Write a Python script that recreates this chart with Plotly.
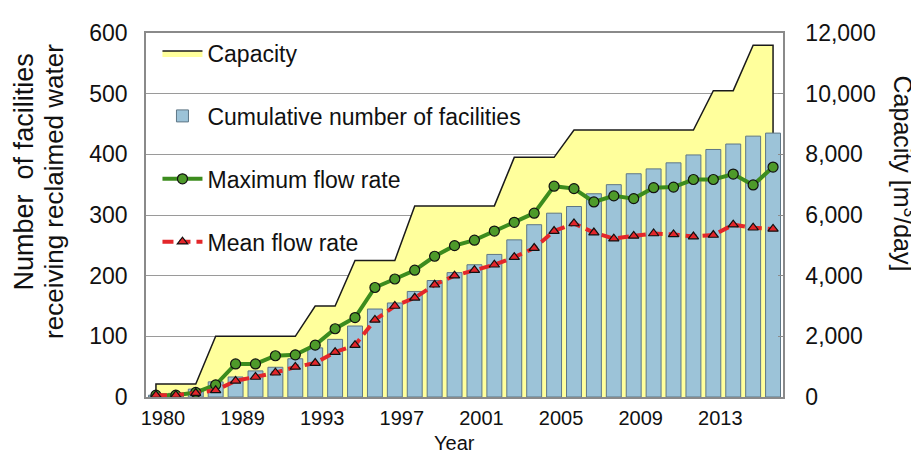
import plotly.graph_objects as go

years = ["1980", "1986", "1987", "1988", "1989", "1990", "1991", "1992",
         "1993", "1994", "1995", "1996", "1997", "1998", "1999", "2000",
         "2001", "2002", "2003", "2004", "2005", "2006", "2007", "2008",
         "2009", "2010", "2011", "2012", "2013", "2014", "2015", "2016"]

cumulative = [3, 6, 13, 25, 33, 43, 49, 63, 81, 95, 117, 145, 155, 174, 192, 205,
              218, 235, 259, 284, 303, 314, 335, 350, 368, 376, 386, 399, 408, 417, 430, 435]

capacity = [430, 430, 430, 2000, 2000, 2000, 2000, 2000, 3000, 3000, 4500, 4500, 4500,
            6300, 6300, 6300, 6300, 6300, 7900, 7900, 7900, 8800, 8800, 8800, 8800, 8800,
            8800, 8800, 10100, 10100, 11600, 11600]

max_flow = [60, 60, 150, 400, 1090, 1090, 1360, 1390, 1710, 2250, 2620, 3610, 3890, 4180,
            4640, 4990, 5170, 5470, 5760, 6060, 6950, 6870, 6430, 6630, 6540, 6900, 6920,
            7170, 7170, 7350, 6990, 7580]

mean_flow = [60, 60, 130, 220, 530, 660, 800, 990, 1120, 1480, 1710, 2540, 3000, 3270,
             3700, 4000, 4180, 4360, 4610, 4910, 5470, 5720, 5420, 5220, 5310, 5390, 5360,
             5290, 5340, 5680, 5580, 5540]

tick_years = ["1980", "1989", "1993", "1997", "2001", "2005", "2009", "2013"]

FONT = "Liberation Sans, Arial, sans-serif"
AXIS_GRAY = "#8a8a8a"

fig = go.Figure()

# Capacity area (closed at both ends so the outline has vertical sides)
fig.add_trace(go.Scatter(
    x=[years[0]] + years + [years[-1]],
    y=[0] + capacity + [0],
    mode="lines", fill="toself", fillcolor="#FFFF9C",
    line=dict(color="#1a1a1a", width=1.5),
    name="Capacity", yaxis="y", legendgroup="g1", hoverinfo="skip",
))

fig.add_trace(go.Bar(
    x=years, y=cumulative, name="Cumulative number of facilities",
    marker=dict(color="#9CC3D8", line=dict(color="#5E7786", width=1)),
    yaxis="y2", legendgroup="g2",
))

fig.add_trace(go.Scatter(
    x=years, y=max_flow, name="Maximum flow rate", mode="lines+markers",
    line=dict(color="#3C8C1E", width=4),
    marker=dict(symbol="circle", size=10, color="#4E9A2A", line=dict(color="#111", width=1.2)),
    yaxis="y3", legendgroup="g3",
))

fig.add_trace(go.Scatter(
    x=years, y=mean_flow, name="Mean flow rate", mode="lines+markers",
    line=dict(color="#E3262A", width=4, dash="11px,6px"),
    marker=dict(symbol="triangle-up", size=9, color="#E3262A", line=dict(color="#111", width=1.2)),
    yaxis="y3", legendgroup="g4",
))

fig.update_layout(
    width=911, height=445,
    margin=dict(l=138, r=136, t=16, b=56),
    paper_bgcolor="white", plot_bgcolor="white",
    font=dict(family=FONT, size=20, color="#111"),
    bargap=0.25,
    hovermode=False,
    showlegend=True,
    legend=dict(
        x=0.018, y=1.004, xanchor="left", yanchor="top",
        bgcolor="rgba(0,0,0,0)", font=dict(size=23, family=FONT, color="#111"),
        tracegroupgap=30, itemwidth=40, traceorder="grouped", maxheight=440,
    ),
    xaxis=dict(
        type="category", categoryorder="array", categoryarray=years,
        range=[-0.5, len(years) - 0.5],
        tickmode="array", tickvals=tick_years, ticktext=tick_years,
        ticks="", showgrid=False, showline=True, linecolor=AXIS_GRAY, linewidth=1.5,
        mirror=True, tickfont=dict(size=20), ticklabelstandoff=2, ticklabelshift=7,
    ),
    yaxis=dict(
        side="right", range=[0, 12000], tickmode="linear", tick0=0, dtick=2000,
        tickformat=",", showgrid=True, gridcolor="#9a9a9a", gridwidth=1,
        zeroline=False, showline=True, linecolor=AXIS_GRAY, linewidth=1.5,
        ticks="inside", ticklen=5, tickcolor=AXIS_GRAY,
        tickfont=dict(size=23), ticklabelstandoff=16,
    ),
    yaxis2=dict(
        overlaying="y", side="left", range=[0, 600], tickmode="linear", tick0=0, dtick=100,
        showgrid=False, zeroline=False, showline=True, linecolor=AXIS_GRAY, linewidth=1.5,
        ticks="", tickfont=dict(size=23), ticklabelstandoff=12,
    ),
    yaxis3=dict(overlaying="y", range=[0, 12000], visible=False),
)

annotations = [
    dict(text="Number  of facilities", x=-0.1915, y=0.617, xref="paper", yref="paper",
         textangle=-90, showarrow=False, font=dict(size=27), xanchor="center", yanchor="middle"),
    dict(text="receiving reclaimed water", x=-0.1445, y=0.566, xref="paper", yref="paper",
         textangle=-90, showarrow=False, font=dict(size=26), xanchor="center", yanchor="middle"),
    dict(text="Capacity [m<sup>3</sup>/day]", x=1.1915, y=0.614, xref="paper", yref="paper",
         textangle=90, showarrow=False, font=dict(size=25), xanchor="center", yanchor="middle"),
    dict(text="Year", x=0.485, y=-0.126, xref="paper", yref="paper",
         showarrow=False, font=dict(size=20), xanchor="center", yanchor="middle"),
    dict(text=str(cumulative[-1]), x=years[-1], y=cumulative[-1], xref="x", yref="y2",
         showarrow=False, font=dict(size=15, color="#333"), xanchor="center", yanchor="bottom",
         yshift=12),
]
fig.update_layout(annotations=annotations)

fig.write_html("out.html")
